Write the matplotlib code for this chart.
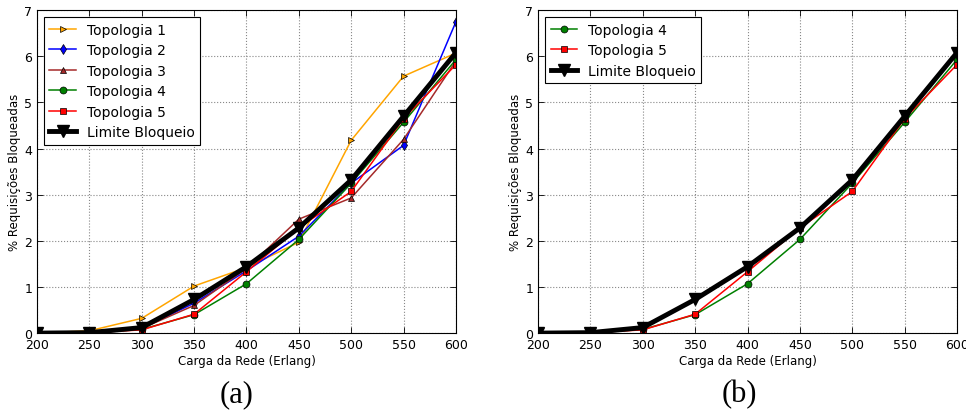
import matplotlib
matplotlib.use('Agg')
import matplotlib.pyplot as plt

# carga da rede (Erlang)
CARGA = [200, 250, 300, 350, 400, 450, 500, 550, 600]

TOPO1 = [0.0, 0.05, 0.32, 1.02, 1.42, 1.97, 4.18, 5.57, 6.07]
TOPO2 = [0.0, 0.01, 0.10, 0.65, 1.35, 2.10, 3.25, 4.07, 6.75]
TOPO3 = [0.0, 0.01, 0.10, 0.60, 1.40, 2.47, 2.93, 4.20, 5.90]
TOPO4 = [0.0, 0.01, 0.08, 0.40, 1.07, 2.03, 3.25, 4.57, 5.93]
TOPO5 = [0.0, 0.01, 0.07, 0.41, 1.33, 2.28, 3.07, 4.65, 5.82]
LIMITE = [0.0, 0.01, 0.12, 0.73, 1.44, 2.28, 3.32, 4.70, 6.08]

XTICKS = [200, 250, 300, 350, 400, 450, 500, 550, 600]
YTICKS = [0, 1, 2, 3, 4, 5, 6, 7]

plt.rcParams['font.family'] = ['DejaVu Sans']
plt.rcParams['xtick.direction'] = 'in'
plt.rcParams['ytick.direction'] = 'in'
plt.rcParams['xtick.top'] = True
plt.rcParams['ytick.right'] = True

fig = plt.figure(figsize=(9.66, 4.14), dpi=100)
ax1 = fig.add_axes([0.0383, 0.193, 0.4337, 0.780])
ax2 = fig.add_axes([0.557, 0.193, 0.4337, 0.780])

mk = dict(markersize=5, markeredgewidth=0.5, markeredgecolor='k', linewidth=1.1)


def estilo(ax):
    ax.set_xlim(200, 600)
    ax.set_ylim(0, 7)
    ax.set_xticks(XTICKS)
    ax.set_yticks(YTICKS)
    ax.tick_params(labelsize=9, length=4, width=0.6)
    ax.grid(True, linestyle=':', color='#888888', linewidth=0.8)
    ax.set_xlabel('Carga da Rede (Erlang)', fontsize=8.5, labelpad=2)
    ax.set_ylabel('% Requisições Bloqueadas', fontsize=8.5, labelpad=2)
    for s in ax.spines.values():
        s.set_linewidth(0.8)


ax1.plot(CARGA, TOPO1, color='#FFA500', marker='>', label='Topologia 1', **mk)
ax1.plot(CARGA, TOPO2, color='#0000FF', marker='d', label='Topologia 2', **mk)
ax1.plot(CARGA, TOPO3, color='#A52A2A', marker='^', label='Topologia 3', **mk)
ax1.plot(CARGA, TOPO4, color='#008000', marker='o', label='Topologia 4', **mk)
ax1.plot(CARGA, TOPO5, color='#FF0000', marker='s', label='Topologia 5', **mk)
ax1.plot(CARGA, LIMITE, color='k', marker='v', markersize=8, linewidth=3.5,
         label='Limite Bloqueio')

ax2.plot(CARGA, TOPO4, color='#008000', marker='o', label='Topologia 4', **mk)
ax2.plot(CARGA, TOPO5, color='#FF0000', marker='s', label='Topologia 5', **mk)
ax2.plot(CARGA, LIMITE, color='k', marker='v', markersize=8, linewidth=3.5,
         label='Limite Bloqueio')

for ax in (ax1, ax2):
    estilo(ax)
    leg = ax.legend(loc='upper left', fontsize=10, fancybox=False,
                    framealpha=1, edgecolor='k', borderaxespad=0.5,
                    handlelength=1.9, labelspacing=0.47, borderpad=0.4,
                    handletextpad=0.8)
    leg.get_frame().set_linewidth(0.8)

fig.text(0.245, 0.012, '(a)', fontsize=22, family='Liberation Serif',
         ha='center', va='bottom')
fig.text(0.765, 0.012, '(b)', fontsize=22, family='Liberation Serif',
         ha='center', va='bottom')

fig.savefig('out.png', dpi=100)
